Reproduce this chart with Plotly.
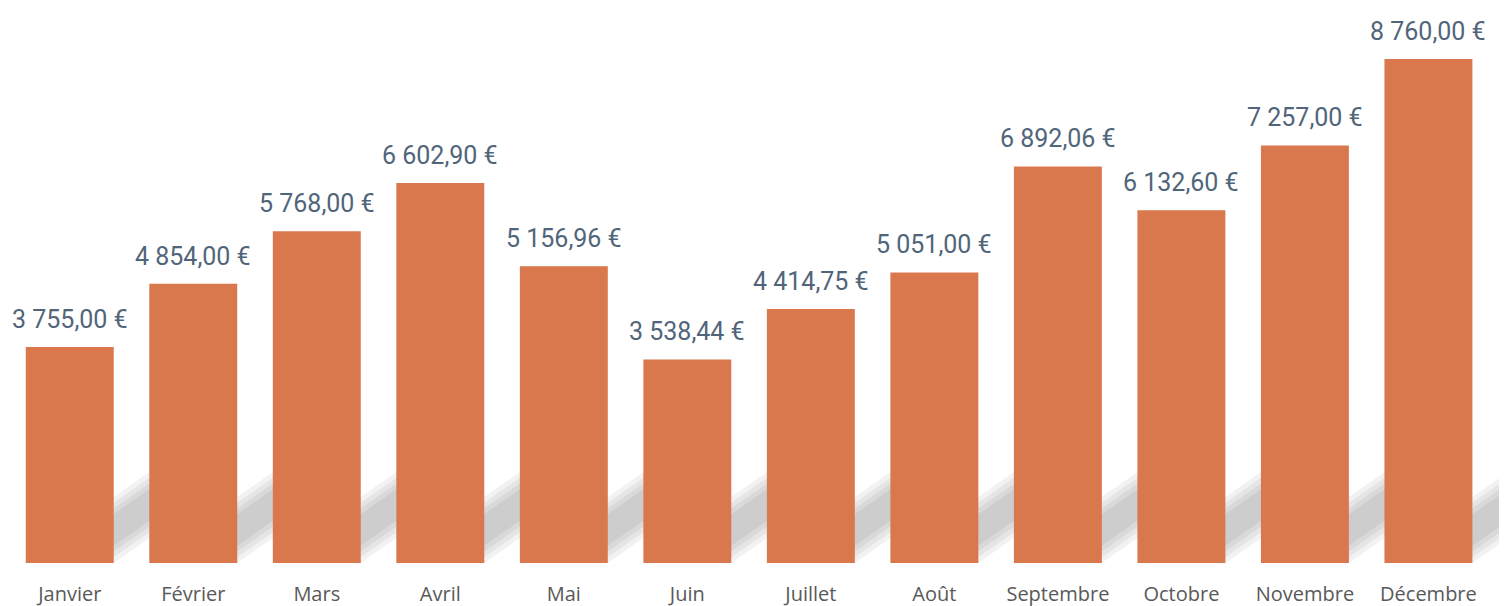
import plotly.graph_objects as go

months = ["Janvier", "Février", "Mars", "Avril", "Mai", "Juin", "Juillet",
          "Août", "Septembre", "Octobre", "Novembre", "Décembre"]
values = [3755.00, 4854.00, 5768.00, 6602.90, 5156.96, 3538.44, 4414.75,
          5051.00, 6892.06, 6132.60, 7257.00, 8760.00]

def fmt(v):
    s = f"{v:,.2f}"
    s = s.replace(",", " ").replace(".", ",")
    return s + " €"

labels = [fmt(v) for v in values]
xs = list(range(len(months)))

BAR = "#D9774D"
half = 0.356  # half bar width in category units

fig = go.Figure()
fig.add_trace(go.Bar(
    x=xs, y=values, marker=dict(color=BAR, line=dict(width=0)),
    width=2 * half, hoverinfo="skip",
))

# soft diagonal shadow band in the gap right of each bar (rising to the right)
shapes = []
slope = 1500.0  # value units per category unit
layers = [(0, 1150, 0.05), (100, 1050, 0.05), (200, 950, 0.05), (300, 850, 0.05)]
for i in xs:
    x1 = i + half
    xa, xb = i + 0.30, i + 1.05
    for b, t, op in layers:
        ya_b = b + slope * (xa - x1)
        yb_b = b + slope * (xb - x1)
        ya_t = t + slope * (xa - x1)
        yb_t = t + slope * (xb - x1)
        path = (f"M {xa},{ya_b} L {xb},{yb_b} L {xb},{yb_t} "
                f"L {xa},{ya_t} Z")
        shapes.append(dict(type="path", path=path, xref="x", yref="y",
                           fillcolor=f"rgba(0,0,0,{op})",
                           line=dict(width=0), layer="below"))

annotations = []
for i, v, t in zip(xs, values, labels):
    annotations.append(dict(x=i, y=v, text=t, showarrow=False,
                            yanchor="bottom", yshift=11,
                            font=dict(family="Roboto", size=25, color="#51657A")))

fig.update_layout(
    width=1507, height=606,
    margin=dict(l=0, r=10, t=2, b=51),
    paper_bgcolor="white", plot_bgcolor="white",
    showlegend=False,
    shapes=shapes, annotations=annotations,
    xaxis=dict(tickvals=xs, ticktext=months, range=[-0.5, 11.62],
               showgrid=False, zeroline=False, showline=False, ticks="",
               tickfont=dict(family="Open Sans", size=20, color="#595959"),
               ticklabelstandoff=17),
    yaxis=dict(range=[0, 9612], visible=False, showgrid=False, zeroline=False),
)

fig.write_html("out.html")
